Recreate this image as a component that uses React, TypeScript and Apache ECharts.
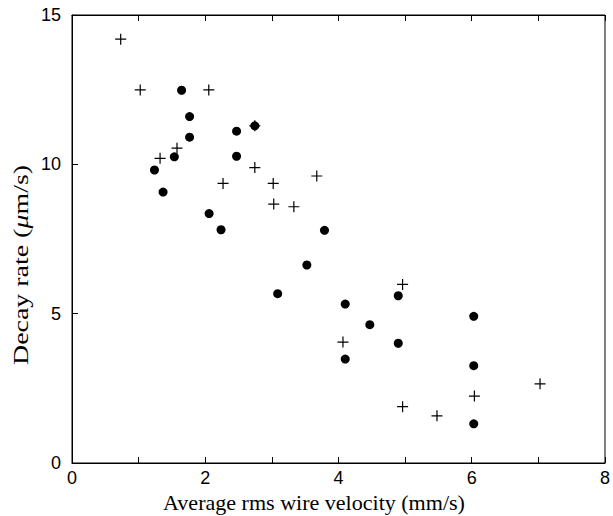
import React, { useEffect, useRef } from "react";
import * as echarts from "echarts";

const circleX = [1.645, 1.765, 1.765, 1.536, 1.238, 1.367, 2.47, 2.47, 2.058, 2.237, 3.79, 2.744, 3.525, 3.087, 4.101, 4.897, 4.47, 4.897, 4.101, 6.03, 6.03, 6.03];
const circleY = [12.48, 11.6, 10.91, 10.25, 9.81, 9.07, 11.11, 10.27, 8.35, 7.81, 7.79, 11.29, 6.63, 5.67, 5.32, 5.6, 4.63, 4.01, 3.48, 4.91, 3.26, 1.31];
const plusX = [0.731, 1.024, 2.053, 1.576, 1.322, 2.744, 2.267, 3.02, 3.028, 3.33, 3.674, 2.744, 4.962, 4.067, 4.962, 5.478, 6.04, 7.025];
const plusY = [14.19, 12.49, 12.49, 10.54, 10.2, 9.89, 9.36, 9.36, 8.67, 8.58, 9.61, 11.29, 5.98, 4.05, 1.885, 1.58, 2.24, 2.65];

const xTicks = [0, 2, 4, 6, 8];
const yTicks = [0, 5, 10, 15];
const xName = "Average rms wire velocity (mm/s)";

const PLUS = "path://M4.45,0 h1.1 v4.45 h4.45 v1.1 h-4.45 v4.45 h-1.1 v-4.45 h-4.45 v-1.1 h4.45 z";

export default function App() {
  const ref = useRef<HTMLDivElement>(null);
  useEffect(() => {
    document.body.style.margin = "0";
    const chart = echarts.init(ref.current!, null, { renderer: "svg" });
    const tickFont = { fontFamily: "Liberation Sans", fontSize: 18, color: "#000" };
    const axisLine = { lineStyle: { color: "#000", width: 1 } };
    chart.setOption({
      animation: false,
      backgroundColor: "#fff",
      grid: { left: 72, right: 5, top: 15, bottom: 53, show: true, borderColor: "#000", borderWidth: 1, backgroundColor: "transparent" },
      xAxis: [
        {
          type: "value", min: 0, max: 8, interval: 1, position: "bottom",
          axisLine, splitLine: { show: false },
          axisTick: { show: true, inside: true, length: 6, lineStyle: { color: "#000" } },
          axisLabel: { ...tickFont, margin: 6, formatter: (v: number) => (xTicks.includes(v) ? String(v) : "") },
        },
        {
          type: "value", min: 0, max: 8, interval: 1, position: "top",
          axisLine, splitLine: { show: false },
          axisTick: { show: true, inside: true, length: 6, lineStyle: { color: "#000" } },
          axisLabel: { show: false },
        },
      ],
      yAxis: {
        type: "value", min: 0, max: 15, interval: 5,
        axisLine: { show: true, ...axisLine }, splitLine: { show: false },
        axisTick: { show: true, inside: true, length: 6, lineStyle: { color: "#000" } },
        axisLabel: { ...tickFont, margin: 11, formatter: (v: number) => (yTicks.includes(v) ? String(v) : "") },
      },
      graphic: [
        {
          type: "text", x: 314, y: 503, scaleX: 1.05,
          style: { text: xName, font: '21px "Liberation Serif"', fill: "#000", align: "center", verticalAlign: "middle" },
        },
        {
          type: "text", x: 21, y: 265, rotation: Math.PI / 2, scaleX: 1.33,
          style: {
            text: "{n|Decay rate (}{i|μ}{n|m/s)}",
            fill: "#000000",
            opacity: 1,
            font: '21px "Liberation Serif"',
            align: "center", verticalAlign: "middle",
            rich: {
              n: { fontFamily: "Liberation Serif", fontSize: 21, fill: "#000000" },
              i: { fontFamily: "Liberation Serif", fontStyle: "italic", fontSize: 21, fill: "#000000" },
            },
          },
        },
      ],
      series: [
        {
          type: "scatter", symbol: "circle", symbolSize: 9,
          itemStyle: { color: "#000", opacity: 1 },
          data: circleX.map((x, i) => [x, circleY[i]]),
        },
        {
          type: "scatter", symbol: PLUS, symbolSize: 11,
          itemStyle: { color: "#000", opacity: 1 },
          data: plusX.map((x, i) => [x, plusY[i]]),
        },
      ],
    });
    return () => chart.dispose();
  }, []);
  return <div ref={ref} style={{ width: 613, height: 516 }} />;
}
